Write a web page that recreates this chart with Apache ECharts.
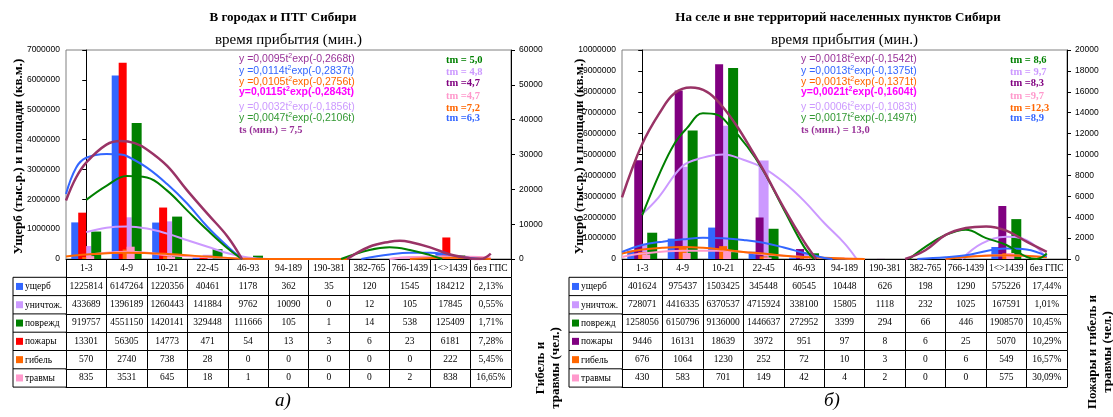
<!DOCTYPE html>
<html><head><meta charset="utf-8">
<script src="https://cdn.jsdelivr.net/npm/echarts@6/dist/echarts.min.js"></script>
<style>html,body{margin:0;padding:0;background:#fff}#c{width:1113px;height:417px}</style>
</head><body><div id="c"></div>
<script>
// ---------- DATA ----------
const categories = ['1-3','4-9','10-21','22-45','46-93','94-189','190-381','382-765','766-1439','1<>1439','без ГПС'];
const rowNames = ['ущерб','уничтож.','поврежд','пожары','гибель','травмы'];

// В городах и ПТГ Сибири
const cityDamage    = [1225814,6147264,1220356,40461,1178,362,35,120,1545,184212];
const cityDestroyed = [433689,1396189,1260443,141884,9762,10090,0,12,105,17845];
const cityDamaged   = [919757,4551150,1420141,329448,111666,105,1,14,538,125409];
const cityFires     = [13301,56305,14773,471,54,13,3,6,23,6181];
const cityDeaths    = [570,2740,738,28,0,0,0,0,0,222];
const cityInjuries  = [835,3531,645,18,1,0,0,0,2,838];
const cityNoGps     = ['2,13%','0,55%','1,71%','7,28%','5,45%','16,65%'];

// На селе и вне территорий населенных пунктов Сибири
const ruralDamage    = [401624,975437,1503425,345448,60545,10448,626,198,1290,575226];
const ruralDestroyed = [728071,4416335,6370537,4715924,338100,15805,1118,232,1025,167591];
const ruralDamaged   = [1258056,6150796,9136000,1446637,272952,3399,294,66,446,1908570];
const ruralFires     = [9446,16131,18639,3972,951,97,8,6,25,5070];
const ruralDeaths    = [676,1064,1230,252,72,10,3,0,6,549];
const ruralInjuries  = [430,583,701,149,42,4,2,0,0,575];
const ruralNoGps     = ['17,44%','1,01%','10,45%','10,29%','16,57%','30,09%'];

// Trend curves: [category position, value on left axis]
const cityTrendMaroon = [[[-0.5,1960000],[-0.25,2730000],[0,3230000],[0.5,3830000],[0.85,3950000],[1.2,3880000],[1.5,3670000],[2,3120000],[2.5,2290000],[3,1510000],[3.5,740000],[3.85,0]],
                         [[6.45,0],[7,410000],[7.5,580000],[7.75,610000],[8,570000],[8.5,390000],[9,150000],[9.5,20000],[9.75,0],[10,180000]]];
const cityTrendBlue = [[[-0.5,2180000],[-0.25,3060000],[0,3390000],[0.5,3520000],[0.85,3500000],[1,3450000],[1.5,3060000],[2,2510000],[2.5,1850000],[3,1070000],[3.5,410000],[3.85,0]],
                       [[6.8,0],[7.5,150000],[8,210000],[8.5,210000],[9,130000],[9.5,30000],[9.8,0]]];
const cityTrendGreen = [[[0,1980000],[0.5,2450000],[1,2780000],[1.5,2730000],[2,2290000],[2.5,1620000],[3,960000],[3.5,350000],[3.85,0]],
                        [[6.3,0],[7,300000],[7.5,390000],[8,300000],[8.5,130000],[8.8,0]]];
const cityTrendLavender = [[[0,900000],[0.5,1050000],[1,1090000],[1.5,1020000],[2,850000],[2.5,630000],[3,410000],[3.5,190000],[4,50000],[4.5,0]],
                           [[7.5,0],[8,60000],[9,80000],[10,20000]]];
const cityTrendOrange = [[[-0.5,80000],[0,150000],[1,210000],[2,170000],[3,80000],[4,10000],[5,0],[6.5,0]],
                         [[8,0],[9,40000],[10,0]]];
const cityTrendPink = [[[0,130000],[0.5,210000],[1,240000],[1.5,210000],[2,130000],[3,60000],[4,10000],[4.5,0]],
                       [[7.5,0],[8,60000],[9,80000],[10,50000]]];

const ruralTrendMaroon = [[[-0.5,2950000],[0,5500000],[0.45,7050000],[0.8,7930000],[1.2,8200000],[1.6,8000000],[1.95,7370000],[2.35,6330000],[2.75,5060000],[3,4240000],[3.5,2450000],[4,830000],[4.3,0]],
                          [[6.5,0],[7,420000],[7.5,1150000],[8,1480000],[8.5,1560000],[9,1360000],[9.5,830000],[10,340000]]];
const ruralTrendGreen = [[[0,2100000],[0.45,4180000],[0.8,5530000],[1.1,6250000],[1.5,6970000],[1.85,6900000],[2.15,6400000],[2.6,5370000],[3,4200000],[3.5,2370000],[4,580000],[4.25,0]],
                         [[6.6,0],[7,580000],[7.5,1150000],[8,1400000],[8.5,1000000],[9,670000],[9.5,100000],[9.75,0],[10,260000]]];
const ruralTrendLavender = [[[0,2150000],[0.4,2940000],[1,4450000],[1.5,4850000],[2,5000000],[2.5,4750000],[3,4350000],[3.5,3670000],[4,2780000],[4.5,1720000],[5,750000],[5.3,0]],
                            [[7.9,0],[8.4,750000],[9,1060000],[9.5,900000],[9.95,150000]]];
const ruralTrendBlue = [[[-0.5,340000],[0,670000],[0.5,830000],[1,940000],[1.5,1020000],[2,990000],[2.5,910000],[3,780000],[3.5,550000],[4,290000],[4.5,50000],[4.7,0]],
                        [[6.8,0],[7.5,80000],[8,180000],[9,500000],[9.5,450000],[10,130000]]];
const ruralTrendOrange = [[[-0.5,260000],[0,450000],[0.5,540000],[1,580000],[1.5,540000],[2,450000],[2.5,340000],[3,260000],[3.5,160000],[4,100000],[5,20000],[5.5,0]],
                          [[7.5,0],[8,100000],[9,180000],[10,80000]]];
const ruralTrendPink = [[[-0.5,100000],[0,260000],[1,390000],[2,390000],[3,230000],[4,100000],[5,20000],[5.5,0]],
                        [[7.5,0],[8,120000],[9,180000],[10,100000]]];

// Annotation texts
const cityTitle = 'В городах и ПТГ Сибири';
const ruralTitle = 'На селе и вне территорий населенных пунктов Сибири';
const subTitle = 'время прибытия (мин.)';
const cityFormulas = [['y =0,0095t','exp(-0,2668t)'],['y =0,0114t','exp(-0,2837t)'],['y =0,0105t','exp(-0,2756t)'],['y=0,0115t','exp(-0,2843t)'],['y =0,0032t','exp(-0,1856t)'],['y =0,0047t','exp(-0,2106t)']];
const ruralFormulas = [['y =0,0018t','exp(-0,1542t)'],['y =0,0013t','exp(-0,1375t)'],['y =0,0013t','exp(-0,1371t)'],['y=0,0021t','exp(-0,1604t)'],['y =0,0006t','exp(-0,1083t)'],['y =0,0017t','exp(-0,1497t)']];
const cityTs = 'ts (мин.) = 7,5';
const ruralTs = 'ts (мин.) = 13,0';
const cityTm = ['tm = 5,0','tm = 4,8','tm =4,7','tm =4,7','tm =7,2','tm =6,3'];
const ruralTm = ['tm = 8,6','tm = 9,7','tm =8,3','tm =9,7','tm =12,3','tm =8,9'];

// ---------- LAYOUT / STYLE ----------
const SERIF = "'Liberation Serif','Times New Roman',serif";
const SANS = "'Liberation Sans',Arial,sans-serif";
const TOP = 50, H = 209, ROW_H = 18.3;
const formulaColors = ['#993399','#3366FF','#FF6600','#FF00FF','#CC99FF','#339933'];
const tmColors = ['#008000','#CC99FF','#800080','#FF99CC','#FF6600','#3366FF'];
const trendColors = {maroon:'#993366', blue:'#3366FF', green:'#008000', lavender:'#CC99FF', orange:'#FF6600', pink:'#FF99CC'};

const panels = [
  { left: 66, width: 445, tableLeft: 13, yMax: 7000000, y2Max: 60000, y2Int: 10000,
    rows: [cityDamage, cityDestroyed, cityDamaged, cityFires, cityDeaths, cityInjuries], noGps: cityNoGps,
    fireColor: '#FF0000',
    trends: {lavender: cityTrendLavender, pink: cityTrendPink, orange: cityTrendOrange, blue: cityTrendBlue, green: cityTrendGreen, maroon: cityTrendMaroon},
    title: cityTitle, titleX: 283, formulas: cityFormulas, fx: 239, ts: cityTs, tm: cityTm, tmx: 446,
    yTitleX: 19, y2Title: 'Гибель и\nтравмы (чел.)', y2TitleX: 548, y2TitleY: 368, caption: 'а)', capX: 283 },
  { left: 622, width: 445, tableLeft: 569, yMax: 10000000, y2Max: 20000, y2Int: 2000,
    rows: [ruralDamage, ruralDestroyed, ruralDamaged, ruralFires, ruralDeaths, ruralInjuries], noGps: ruralNoGps,
    fireColor: '#800080',
    trends: {lavender: ruralTrendLavender, pink: ruralTrendPink, orange: ruralTrendOrange, blue: ruralTrendBlue, green: ruralTrendGreen, maroon: ruralTrendMaroon},
    title: ruralTitle, titleX: 838, formulas: ruralFormulas, fx: 801, ts: ruralTs, tm: ruralTm, tmx: 1010,
    yTitleX: 580, y2Title: 'Пожары и гибель и\nтравмы (чел.)', y2TitleX: 1100, y2TitleY: 352, caption: 'б)', capX: 832 }
];

const grids = [], xAxes = [], yAxes = [], series = [], graphics = [];
const AX_PER = 10;

panels.forEach((p, g) => {
  const xb = g * AX_PER, yb = g * 2;
  const colors = ['#3366FF','#CC99FF','#008000', p.fireColor, '#FF6600', '#FF99CC'];
  grids.push({ left: p.left, top: TOP, width: p.width, height: H, show: true, borderColor: '#808080', borderWidth: 1, backgroundColor: 'transparent' });

  const rowAxis = (data, offset, showLabels, showTick) => ({
    type: 'category', gridIndex: g, position: 'bottom', offset: offset, data: data,
    axisLine: { show: true, onZero: false, lineStyle: { color: '#000', width: 1 } },
    axisTick: { show: showTick, length: ROW_H, interval: 0, lineStyle: { color: '#000', width: 1 } },
    axisLabel: { show: showLabels, interval: 0, margin: 4, fontFamily: SERIF, fontSize: 9.5, color: '#000', hideOverlap: false },
    splitLine: { show: false }
  });
  xAxes.push(rowAxis(categories, 0, true, true));
  xAxes.push({ type: 'category', gridIndex: g, data: categories, show: false });
  xAxes.push({ type: 'value', gridIndex: g, min: -0.5, max: 10.5, show: false });
  p.rows.forEach((r, k) => {
    xAxes.push(rowAxis(r.map(String).concat([p.noGps[k]]), ROW_H * (k + 1), true, true));
  });
  xAxes.push(rowAxis(categories, ROW_H * 7, false, false));

  const ylab = { fontFamily: SANS, fontSize: 8.5, color: '#000', formatter: v => String(v) };
  yAxes.push({ type: 'value', gridIndex: g, position: 'left', min: 0, max: p.yMax, interval: 1000000,
    axisLine: { show: true, lineStyle: { color: '#000' } }, axisTick: { show: true, length: 4, lineStyle: { color: '#000' } },
    axisLabel: Object.assign({ margin: 6 }, ylab), splitLine: { show: false } });
  yAxes.push({ type: 'value', gridIndex: g, position: 'right', min: 0, max: p.y2Max, interval: p.y2Int,
    axisLine: { show: true, lineStyle: { color: '#000' } }, axisTick: { show: true, length: 4, lineStyle: { color: '#000' } },
    axisLabel: Object.assign({ margin: 8 }, ylab), splitLine: { show: false } });

  [0, 1, 2].forEach(k => series.push({ type: 'bar', name: rowNames[k], xAxisIndex: xb, yAxisIndex: yb, data: p.rows[k],
    itemStyle: { color: colors[k] }, barGap: '0%', barCategoryGap: '26%', z: 2, animation: false }));
  [3, 4, 5].forEach(k => series.push({ type: 'bar', name: rowNames[k], xAxisIndex: xb + 1, yAxisIndex: yb + 1, data: p.rows[k],
    itemStyle: { color: colors[k] }, barWidth: 8, barGap: '-50%', z: 3, animation: false }));
  Object.keys(p.trends).forEach(c => {
    p.trends[c].forEach(seg => series.push({ type: 'line', xAxisIndex: xb + 2, yAxisIndex: yb, data: seg, smooth: 0.4,
      showSymbol: false, symbol: 'none', clip: true, lineStyle: { color: trendColors[c], width: c === 'maroon' ? 2.5 : 2 },
      itemStyle: { color: trendColors[c] }, z: 5, animation: false, silent: true }));
  });

  graphics.push({ type: 'text', x: p.titleX, y: 18, style: { text: p.title, fill: '#000', font: `bold 13px ${SERIF}`, textAlign: 'center', textVerticalAlign: 'middle' } });
  graphics.push({ type: 'text', x: p.left + p.width / 2, y: 40, style: { text: subTitle, fill: '#000', font: `15px ${SERIF}`, textAlign: 'center', textVerticalAlign: 'middle' } });
  const fy = [59, 71, 82, 92.5, 107, 118.5];
  p.formulas.forEach((f, i) => {
    const bold = i === 3 ? 'bold' : 'normal';
    graphics.push({ type: 'text', x: p.fx, y: fy[i], style: {
      text: `{n|${f[0]}}{s|2}{n|${f[1]}}`, fill: formulaColors[i], textAlign: 'left', textVerticalAlign: 'middle',
      rich: { n: { fontFamily: SANS, fontSize: 10.5, fontWeight: bold, fill: formulaColors[i], lineHeight: 13 },
              s: { fontFamily: SANS, fontSize: 7, fontWeight: bold, fill: formulaColors[i], verticalAlign: 'top', lineHeight: 13 } } } });
  });
  graphics.push({ type: 'text', x: p.fx, y: 130, style: { text: p.ts, fill: '#993399', font: `bold 10.5px ${SERIF}`, textAlign: 'left', textVerticalAlign: 'middle' } });
  const ty = [60, 72, 83, 96.5, 108, 118.5];
  p.tm.forEach((t, i) => graphics.push({ type: 'text', x: p.tmx, y: ty[i], style: { text: t, fill: tmColors[i], font: `bold 10.5px ${SERIF}`, textAlign: 'left', textVerticalAlign: 'middle' } }));

  graphics.push({ type: 'text', x: p.yTitleX, y: TOP + H / 2 + 2, rotation: Math.PI / 2, style: { text: 'Ущерб (тыс.р.) и площади (кв.м.)', fill: '#000', font: `bold 13px ${SERIF}`, textAlign: 'center', textVerticalAlign: 'middle' } });
  graphics.push({ type: 'text', x: p.y2TitleX, y: p.y2TitleY, rotation: Math.PI / 2, style: { text: p.y2Title, fill: '#000', font: `bold 13px ${SERIF}`, textAlign: 'center', textVerticalAlign: 'middle', lineHeight: 15 } });
  graphics.push({ type: 'text', x: p.capX, y: 401, style: { text: p.caption, fill: '#000', font: `italic 19px ${SERIF}`, textAlign: 'center', textVerticalAlign: 'middle' } });

  const t0 = TOP + H + ROW_H;
  graphics.push({ type: 'line', shape: { x1: p.tableLeft, y1: t0, x2: p.tableLeft, y2: t0 + ROW_H * 6 }, style: { stroke: '#000', lineWidth: 1 } });
  for (let k = 0; k <= 6; k++) {
    graphics.push({ type: 'line', shape: { x1: p.tableLeft, y1: t0 + ROW_H * k, x2: p.left, y2: t0 + ROW_H * k }, style: { stroke: '#000', lineWidth: 1 } });
  }
  rowNames.forEach((n, k) => {
    const cy = t0 + ROW_H * k + ROW_H / 2;
    graphics.push({ type: 'rect', shape: { x: p.tableLeft + 3, y: cy - 3.5, width: 7, height: 7 }, style: { fill: colors[k] } });
    graphics.push({ type: 'text', x: p.tableLeft + 12, y: cy + 0.5, style: { text: n, fill: '#000', font: `9.5px ${SERIF}`, textAlign: 'left', textVerticalAlign: 'middle' } });
  });
});

const chart = echarts.init(document.getElementById('c'), null, { renderer: 'canvas' });
chart.setOption({
  animation: false,
  backgroundColor: '#fff',
  grid: grids, xAxis: xAxes, yAxis: yAxes, series: series,
  graphic: { elements: graphics }
});
</script></body></html>
